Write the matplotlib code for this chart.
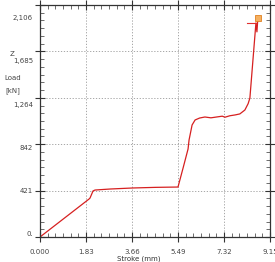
import matplotlib
matplotlib.use("Agg")
import matplotlib.pyplot as plt
from matplotlib.ticker import AutoMinorLocator
import numpy as np

# Data
stroke = [0.0, 1.95, 1.99, 2.11, 2.19, 2.8, 3.70, 4.6, 5.45, 5.49, 5.70, 5.89, 5.93,
          6.01, 6.05, 6.17, 6.35, 6.56, 6.80, 7.08, 7.25, 7.36, 7.55, 7.76, 7.95,
          8.15, 8.28, 8.35, 8.59, 8.63, 8.67]
load = [0, 370, 380, 449, 458, 468, 478, 484, 487, 487, 680, 858, 946,
        1043, 1092, 1141, 1160, 1170, 1162, 1172, 1178, 1168, 1182, 1190, 1200,
        1238, 1300, 1355, 2087, 2000, 2145]

x_tick_labels = ["0.000", "1.83", "3.66", "5.49", "7.32", "9.15"]
x_tick_values = [0.0, 1.83, 3.66, 5.49, 7.32, 9.15]
y_tick_labels = ["0.", "421", "842", "1,264", "1,685", "2,106"]
y_tick_values = [0, 421.2, 842.4, 1263.6, 1684.8, 2106]
x_max = 9.15
y_max = 2262

marker_x = [8.66]
marker_y = [2140]
hline_x = [8.22, 8.60]
hline_y = [2087, 2087]

fig = plt.figure(figsize=(2.75, 2.62), dpi=100)
ax = fig.add_axes([40/275, (262-237)/262, 230/275, 232/262])
ax.set_xlim(0, x_max)
ax.set_ylim(0, y_max)

ax.plot(stroke, load, color="#d62020", lw=0.9)
ax.plot(hline_x, hline_y, color="#e03030", lw=0.8)
ax.plot(marker_x, marker_y, marker="s", ms=4, mfc="#f5b060", mec="#e08020", mew=0.6, ls="none")

# grid & major ticks at fifths of range
ax.set_xticks(x_tick_values)
ax.set_xticklabels(x_tick_labels)
ax.set_yticks([y_max * k / 5 for k in range(6)])
ax.set_yticklabels([])
ax.grid(True, which="major", color="#999999", ls=(0, (1.5, 2)), lw=0.6)
ax.xaxis.set_minor_locator(AutoMinorLocator(6))
ax.yaxis.set_minor_locator(AutoMinorLocator(6))
ax.tick_params(axis="both", which="major", direction="inout", length=7, width=0.8,
               color="#333333", top=True, right=True, labelsize=5, labelcolor="#444444")
ax.tick_params(axis="both", which="minor", direction="in", length=3, width=0.6,
               color="#555555", top=True, right=True)
ax.tick_params(axis="x", which="major", pad=5)

for s in ax.spines.values():
    s.set_color("#333333")
    s.set_linewidth(0.9)

# y tick labels at their own values
for v, lab in zip(y_tick_values, y_tick_labels):
    ax.annotate(lab, xy=(0, v), xycoords=("axes fraction", "data"),
                xytext=(-5, 2), textcoords="offset points", ha="right", va="center",
                fontsize=5, color="#444444")

ax.text(-0.12, 0.79, "Z", transform=ax.transAxes, ha="center", va="center",
        fontsize=5, color="#444444")
ax.text(-0.12, 0.685, "Load", transform=ax.transAxes, ha="center", va="center",
        fontsize=5, color="#444444")
ax.text(-0.12, 0.63, "[kN]", transform=ax.transAxes, ha="center", va="center",
        fontsize=5, color="#444444")
fig.text(139/275, 0.5/262, "Stroke (mm)", ha="center", va="bottom",
         fontsize=5, color="#333333")

fig.savefig("out.png", dpi=100)
